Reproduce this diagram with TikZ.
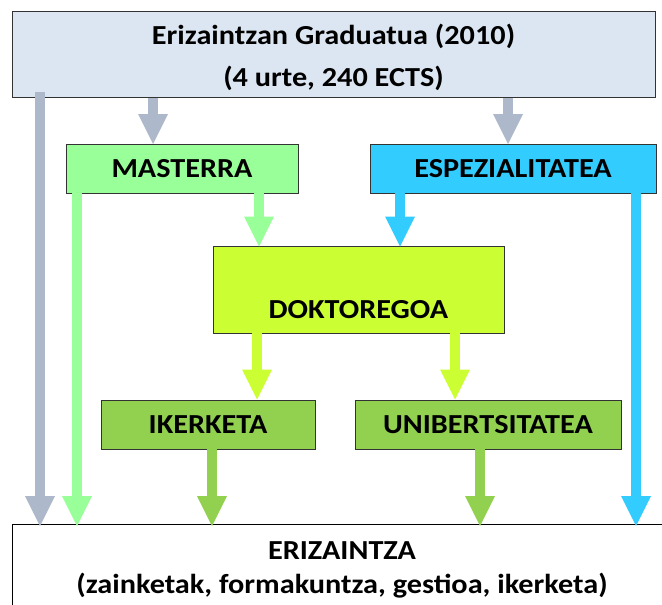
\documentclass[tikz,border=0pt]{standalone}
\usepackage{fontspec}
\setmainfont{Carlito}[FakeStretch=1.1]
\usetikzlibrary{arrows.meta,calc}
\definecolor{topfill}{HTML}{DCE6F2}
\definecolor{greyarr}{HTML}{ADB9CA}
\definecolor{mgreen}{HTML}{99FF99}
\definecolor{eblue}{HTML}{33CCFF}
\definecolor{dyel}{HTML}{CCFF33}
\definecolor{igreen}{HTML}{92D050}
\definecolor{bord}{HTML}{333333}
\tikzset{
  box/.style={draw=bord, line width=1pt, inner sep=0pt, font=\bfseries\fontsize{27.5}{32}\selectfont, align=center},
  lbl/.style={inner sep=0pt, anchor=base, font=\bfseries\fontsize{27.5}{32}\selectfont},
  barrow/.style={line width=10.5pt, -{Triangle[length=30pt,width=30pt,line width=0pt]}},
}
\begin{document}
\begin{tikzpicture}[x=1pt,y=-1pt]
\useasboundingbox (0,0) rectangle (662,605);
\node[box, fill=topfill, minimum width=643pt, minimum height=86pt] (top) at (333.5,54) {};
\node[lbl] (toptxta) at (333.5,44) {Erizaintzan Graduatua (2010)};
\node[lbl] (toptxtb) at (333.5,86) {(4 urte, 240 ECTS)};
\node[box, fill=mgreen, minimum width=232pt, minimum height=49pt] (mas) at (182,169) {MASTERRA};
\node[box, fill=eblue, minimum width=286pt, minimum height=49pt] (esp) at (513,169) {ESPEZIALITATEA};
\node[box, fill=dyel, minimum width=291pt, minimum height=87pt] (dok) at (358.5,289.5) {};
\node[lbl] (doktxt) at (358.5,318) {DOKTOREGOA};
\node[box, fill=igreen, minimum width=214pt, minimum height=49pt] (ike) at (208,424.5) {IKERKETA};
\node[box, fill=igreen, minimum width=266pt, minimum height=49pt] (uni) at (488,424.5) {UNIBERTSITATEA};
\node[box, draw=black, fill=white, minimum width=700pt, minimum height=130pt, anchor=north west] (eri) at (12,524) {};
\node[lbl] (eritxta) at (342,559) {ERIZAINTZA};
\node[lbl] (eritxtb) at (342,593) {(zainketak, formakuntza, gestioa, ikerketa)};
% connector x positions
\coordinate (xg) at (40,0);
\coordinate (xg1) at (153,0);
\coordinate (xg2) at (508,0);
\coordinate (xm) at (77,0);
\coordinate (xm2) at (259,0);
\coordinate (xb) at (400,0);
\coordinate (xb2) at (636,0);
\coordinate (xy1) at (257,0);
\coordinate (xy2) at (455,0);
\coordinate (xi) at (212,0);
\coordinate (xu) at (480,0);
% arrows
\draw[barrow, greyarr] ([yshift=6pt]top.south -| xg) -- ([yshift=-2pt]eri.north -| xg);
\draw[barrow, greyarr] (top.south -| xg1) -- (mas.north -| xg1);
\draw[barrow, greyarr] (top.south -| xg2) -- (esp.north -| xg2);
\draw[barrow, mgreen] ([yshift=3pt]mas.south -| xm) -- ([yshift=-2pt]eri.north -| xm);
\draw[barrow, mgreen] ([yshift=3pt]mas.south -| xm2) -- ([yshift=-1pt]dok.north -| xm2);
\draw[barrow, eblue] ([yshift=3pt]esp.south -| xb) -- ([yshift=-1pt]dok.north -| xb);
\draw[barrow, eblue] ([yshift=3pt]esp.south -| xb2) -- ([yshift=-2pt]eri.north -| xb2);
\draw[barrow, dyel] ([yshift=4pt]dok.south -| xy1) -- (ike.north -| xy1);
\draw[barrow, dyel] ([yshift=4pt]dok.south -| xy2) -- (uni.north -| xy2);
\draw[barrow, igreen] ([yshift=3pt]ike.south -| xi) -- ([yshift=-2pt]eri.north -| xi);
\draw[barrow, igreen] ([yshift=3pt]uni.south -| xu) -- ([yshift=-2pt]eri.north -| xu);
\end{tikzpicture}
\end{document}
